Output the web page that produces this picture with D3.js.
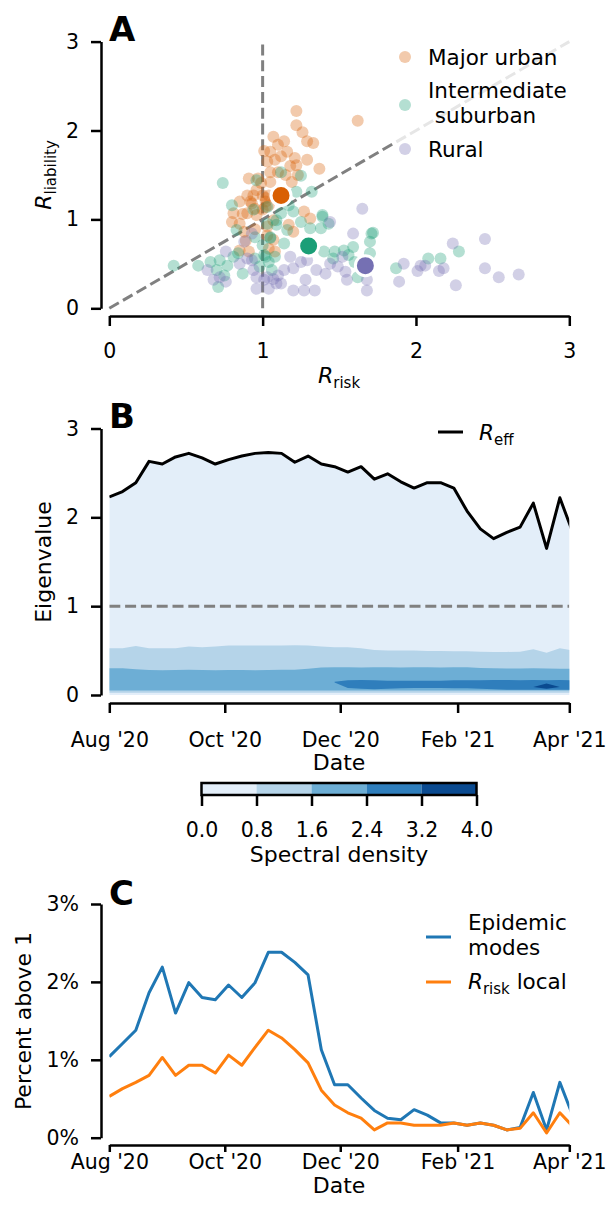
<!DOCTYPE html>
<html>
<head>
<meta charset="utf-8">
<script src="https://cdn.jsdelivr.net/npm/d3@7"></script>
<style>
body { margin: 0; background: #fff; }
text { font-family: "DejaVu Sans", sans-serif; fill: #000; }
</style>
</head>
<body>
<div id="chart"></div>
<script>
// ---------- data ----------
// panel A: [R_risk, R_liability] per county, grouped
var urbanPts = [[1.22,2.22],[1.22,2.06],[1.26,1.98],[1.29,1.88],[1.33,1.86],[1.07,1.93],[1.14,1.88],[1.10,1.84],
  [1.01,1.77],[1.05,1.76],[1.16,1.76],[1.12,1.71],[1.21,1.69],[1.29,1.67],[1.37,1.57],[1.03,1.65],[1.08,1.67],
  [1.18,1.60],[1.22,1.61],[1.05,1.53],[1.10,1.53],[1.15,1.50],[1.23,1.50],[1.19,1.42],[0.91,1.46],[0.97,1.46],
  [1.05,1.42],[0.96,1.33],[0.94,1.27],[1.00,1.27],[0.85,1.20],[0.92,1.20],[1.02,1.20],[0.95,1.12],[0.87,1.06],
  [1.00,1.11],[1.04,1.27],[1.62,2.11],[0.99,1.41],[0.90,1.27],[1.02,1.24],[0.93,1.18],[1.02,1.14],[0.81,1.07],
  [0.90,1.07],[0.96,1.05],[0.80,0.97],[0.85,0.95],[0.88,0.86],[0.95,0.89],[0.89,0.76],[1.03,0.82],[1.07,0.77],
  [0.85,0.65],[0.91,0.64],[1.04,0.67],[1.08,0.64],[1.27,1.09],[1.31,1.01],[1.20,0.86],[1.04,1.16],[1.07,0.99],
  [1.03,0.92],[1.17,0.94]];
var suburbanPts = [[0.74,1.41],[0.80,1.16],[0.94,1.11],[0.83,0.88],[0.95,0.80],[1.05,0.80],[1.00,0.71],[0.42,0.48],
  [0.58,0.48],[0.66,0.52],[0.72,0.54],[0.77,0.48],[0.81,0.58],[0.84,0.62],[0.70,0.43],[0.75,0.37],[0.71,0.24],
  [0.87,0.39],[0.95,0.56],[1.01,0.60],[1.04,0.52],[1.06,0.43],[0.98,0.47],[1.08,0.58],[1.09,0.99],[1.03,0.95],
  [1.39,1.03],[1.43,0.95],[1.38,0.90],[1.31,0.90],[1.25,0.97],[1.20,1.09],[1.12,1.07],[1.09,0.94],[1.16,0.88],
  [1.14,0.73],[1.05,0.79],[1.71,0.84],[1.70,0.75],[1.59,0.69],[1.53,0.65],[1.56,0.60],[1.60,0.52],[1.70,0.62],
  [1.62,0.35],[1.40,0.64],[1.47,0.64],[1.46,0.56],[1.02,0.58],[1.72,0.85],[1.87,0.45],[2.08,0.56],[2.16,0.56],
  [2.28,0.64],[1.32,1.31],[1.22,1.31],[1.39,1.05],[1.25,1.49],[1.12,1.53],[0.96,1.44],[1.17,1.16],[1.03,1.14]];
var ruralPts = [[0.76,0.64],[0.64,0.43],[0.68,0.32],[0.72,0.35],[0.76,0.30],[0.85,0.50],[0.90,0.56],[0.93,0.54],
  [0.94,0.43],[0.96,0.35],[1.01,0.32],[0.96,0.22],[1.04,0.22],[1.09,0.28],[0.93,0.84],[0.88,0.75],[1.07,0.33],
  [1.65,1.12],[1.59,0.84],[1.44,0.97],[1.52,0.58],[1.44,0.50],[1.49,0.47],[1.54,0.41],[1.41,0.39],[1.35,0.43],
  [1.55,0.32],[1.68,0.32],[1.68,0.20],[1.28,0.32],[1.34,0.20],[1.27,0.20],[1.20,0.20],[1.12,0.28],[1.10,0.37],
  [1.20,0.45],[1.25,0.52],[1.18,0.58],[1.29,0.54],[1.14,0.43],[1.03,0.35],[2.24,0.73],[2.45,0.78],[1.92,0.50],
  [2.03,0.48],[2.06,0.48],[2.01,0.42],[2.15,0.42],[2.18,0.45],[1.89,0.30],[2.26,0.26],[2.45,0.45],[2.54,0.35],
  [2.67,0.38]];
var groupNames = ['Major urban', 'Intermediate\n suburban', 'Rural'];
var groupColors = ['#d95f02', '#1b9e77', '#7570b3'];
var groupMeans = [[1.12,1.27],[1.30,0.70],[1.67,0.48]];
var axisTicksA = [0, 1, 2, 3];

// panels B and C: weekly values from 1 Aug 2020
var weekCount = 36;
var rEff = [2.23,2.29,2.39,2.63,2.60,2.68,2.72,2.67,2.60,2.65,2.69,2.72,2.73,2.72,2.62,2.69,2.60,2.57,
  2.51,2.57,2.43,2.49,2.40,2.33,2.39,2.39,2.33,2.07,1.87,1.76,1.83,1.89,2.16,1.65,2.22,1.82];
// spectral density bands (eigenvalue limits of each filled contour level)
var band1Top = [0.526,0.526,0.552,0.526,0.526,0.526,0.545,0.537,0.545,0.556,0.556,0.556,0.556,0.556,0.560,0.556,0.545,0.537,
  0.537,0.526,0.507,0.500,0.500,0.500,0.496,0.496,0.492,0.492,0.488,0.485,0.485,0.488,0.515,0.477,0.526,0.500];
var band1Bot = [0.025,0.025,0.025,0.025,0.025,0.025,0.025,0.025,0.025,0.025,0.025,0.025,0.025,0.025,0.025,0.025,0.025,0.025,
  0.025,0.025,0.025,0.025,0.025,0.025,0.025,0.025,0.025,0.025,0.025,0.025,0.025,0.025,0.025,0.025,0.025,0.025];
var band2Top = [0.300,0.300,0.290,0.282,0.280,0.282,0.283,0.282,0.280,0.282,0.282,0.280,0.282,0.283,0.285,0.295,0.310,0.312,
  0.312,0.310,0.312,0.312,0.310,0.312,0.312,0.310,0.312,0.312,0.305,0.300,0.297,0.297,0.300,0.297,0.295,0.297];
var band2Bot = [0.050,0.050,0.050,0.050,0.050,0.050,0.050,0.050,0.050,0.050,0.050,0.050,0.050,0.050,0.050,0.050,0.050,0.050,
  0.050,0.050,0.050,0.050,0.050,0.050,0.050,0.050,0.050,0.050,0.050,0.050,0.050,0.050,0.050,0.050,0.050,0.050];
var band3Top = [null,null,null,null,null,null,null,null,null,null,null,null,null,null,null,null,null,0.150,
  0.165,0.170,0.165,0.160,0.160,0.160,0.160,0.160,0.165,0.165,0.165,0.170,0.170,0.165,0.170,0.165,0.170,0.165];
var band3Bot = [null,null,null,null,null,null,null,null,null,null,null,null,null,null,null,null,null,0.140,
  0.080,0.070,0.065,0.070,0.075,0.080,0.080,0.080,0.075,0.075,0.070,0.065,0.060,0.060,0.060,0.060,0.060,0.060];
var band4Top = [null,null,null,null,null,null,null,null,null,null,null,null,null,null,null,null,null,null,
  null,null,null,null,null,null,null,null,null,null,null,null,null,null,0.090,0.130,0.090,null];
var band4Bot = [null,null,null,null,null,null,null,null,null,null,null,null,null,null,null,null,null,null,
  null,null,null,null,null,null,null,null,null,null,null,null,null,null,0.090,0.070,0.090,null];
var densityLevels = [0.0, 0.8, 1.6, 2.4, 3.2, 4.0];

var epidemicModes = [1.04,1.21,1.38,1.86,2.19,1.60,1.99,1.80,1.77,1.96,1.80,1.99,2.38,2.38,2.25,2.09,1.13,0.68,
  0.68,0.51,0.35,0.25,0.23,0.36,0.29,0.19,0.19,0.16,0.19,0.16,0.10,0.13,0.58,0.10,0.71,0.27];
var rRiskLocal = [0.53,0.63,0.71,0.80,1.03,0.80,0.93,0.93,0.83,1.06,0.93,1.16,1.38,1.28,1.13,0.96,0.61,0.42,
  0.32,0.25,0.10,0.19,0.19,0.16,0.16,0.16,0.19,0.16,0.19,0.16,0.10,0.12,0.32,0.06,0.32,0.14];
var dateTicks = ['2020-08-01','2020-10-01','2020-12-01','2021-02-01','2021-04-01'];
var eigTicks = [0, 1, 2, 3];
var pctTicks = [0, 1, 2, 3];

// ---------- setup ----------
var W = 608, H = 1214;
var tickFont = '20.5px', labelFont = '22px', legendFont = '21.5px';
var dash = '11,4.8';

var svg = d3.select('#chart').append('svg')
  .attr('width', W).attr('height', H)

var parse = d3.timeParse('%Y-%m-%d');
var weekStart = parse('2020-08-01');
var weeks = d3.range(weekCount).map(i => d3.timeDay.offset(weekStart, 7 * i));
var tickDates = dateTicks.map(parse);

function styleAxis(g){
  g.select('.domain').attr('stroke', '#000').attr('stroke-width', 2.5);
  g.selectAll('.tick line').attr('stroke', '#000').attr('stroke-width', 2.5);
  g.selectAll('.tick text').style('font-size', tickFont).attr('fill', '#000')
    .style('font-family', '"DejaVu Sans", sans-serif');
}

function panelLetter(txt, x, y){
  svg.append('text').attr('x', x).attr('y', y).text(txt)
    .style('font-size', '34px').style('font-weight', 'bold')
}

function subLabel(g, main, sub, extra){
  var t = g.append('text').style('font-size', labelFont)
  t.append('tspan').text(main).style('font-style', 'italic')
  t.append('tspan').text(sub).style('font-size', '15px').attr('dy', 5)
  if (extra) t.append('tspan').text(extra).attr('dy', -5)
  return t
}

// ---------- panel A ----------
var xA = d3.scaleLinear().domain([0, 3]).range([109.3, 569.3]);
var yA = d3.scaleLinear().domain([0, 3]).range([308.3, 41.6]);

svg.append('g').attr('transform', 'translate(101,0)')
  .call(d3.axisLeft(yA).tickValues(axisTicksA).tickFormat(d3.format('d')).tickSize(10).tickPadding(12).tickSizeOuter(0))
  .call(styleAxis);
svg.append('g').attr('transform', 'translate(0,316)')
  .call(d3.axisBottom(xA).tickValues(axisTicksA).tickFormat(d3.format('d')).tickSize(10).tickPadding(17).tickSizeOuter(0))
  .call(styleAxis);

var refLine = d3.line().x(d => xA(d[0])).y(d => yA(d[1]));
svg.append('path').attr('d', refLine([[0,0],[3,3]]))
  .attr('stroke', '#808080').attr('stroke-width', 3).attr('stroke-dasharray', dash).attr('fill', 'none');
svg.append('path').attr('d', refLine([[1,0],[1,3]]))
  .attr('stroke', '#808080').attr('stroke-width', 3).attr('stroke-dasharray', dash).attr('fill', 'none');

[urbanPts, suburbanPts, ruralPts].forEach(function(pts, gi){
  svg.append('g').selectAll('circle').data(pts).enter().append('circle')
    .attr('cx', d => xA(d[0])).attr('cy', d => yA(d[1])).attr('r', 6)
    .attr('fill', groupColors[gi]).attr('fill-opacity', 0.33)
});
svg.append('g').selectAll('circle').data(groupMeans).enter().append('circle')
  .attr('cx', d => xA(d[0])).attr('cy', d => yA(d[1])).attr('r', 10)
  .attr('fill', (d, i) => groupColors[i]).attr('stroke', '#fff').attr('stroke-width', 3);

// legend A (semi transparent frame hides the diagonal)
svg.append('rect').attr('x', 393).attr('y', 38).attr('width', 186).attr('height', 127)
  .attr('fill', '#fff').attr('fill-opacity', 0.8);
var legA = [[57, [57]], [105, [90, 115]], [149, [149]]];
legA.forEach(function(row, i){
  svg.append('circle').attr('cx', 405).attr('cy', row[0]).attr('r', 6)
    .attr('fill', groupColors[i]).attr('fill-opacity', 0.33);
  groupNames[i].split('\n').forEach(function(line, j){
    svg.append('text').attr('x', 428).attr('y', row[1][j]).attr('dy', '0.36em')
      .style('font-size', legendFont).style('white-space', 'pre').attr('xml:space', 'preserve').text(line)
  })
});

var yLabA = svg.append('g').attr('transform', 'translate(51,175) rotate(-90)')
subLabel(yLabA, 'R', 'liability').attr('text-anchor', 'middle')
var xLabA = svg.append('g').attr('transform', 'translate(339,383)')
subLabel(xLabA, 'R', 'risk').attr('text-anchor', 'middle')
panelLetter('A', 109, 41);

// ---------- panel B ----------
var xT = d3.scaleTime().domain([tickDates[0], tickDates[4]]).range([109.3, 569.3]);
var yB = d3.scaleLinear().domain([0, 3]).range([695, 428.5]);
var blues = d3.scaleSequential(d3.interpolateBlues).domain([0, 4]);
var bandColors = d3.range(5).map(i => blues((densityLevels[i] + densityLevels[i + 1]) / 2));

svg.append('defs').append('clipPath').attr('id', 'plotClip')
  .append('rect').attr('x', 109.3).attr('y', 0).attr('width', 460).attr('height', H);

var plotB = svg.append('g').attr('clip-path', 'url(#plotClip)');
plotB.append('path').datum(rEff)
  .attr('d', d3.area().x((d, i) => xT(weeks[i])).y0(yB(0)).y1(d => yB(d)))
  .attr('fill', bandColors[0]);

var bands = [[band1Bot, band1Top], [band2Bot, band2Top], [band3Bot, band3Top], [band4Bot, band4Top]];
bands.forEach(function(b, k){
  plotB.append('path').datum(weeks)
    .attr('d', d3.area().defined((d, i) => b[1][i] != null)
      .x(d => xT(d)).y0((d, i) => yB(b[0][i])).y1((d, i) => yB(b[1][i])))
    .attr('fill', bandColors[k + 1]);
});

plotB.append('path').datum([1, 1])
  .attr('d', d3.line().x((d, i) => xT(tickDates[i * 4])).y(d => yB(d)))
  .attr('stroke', '#808080').attr('stroke-width', 3).attr('stroke-dasharray', dash).attr('fill', 'none');

plotB.append('path').datum(rEff)
  .attr('d', d3.line().x((d, i) => xT(weeks[i])).y(d => yB(d)))
  .attr('stroke', '#000').attr('stroke-width', 3).attr('fill', 'none').attr('stroke-linejoin', 'round');

svg.append('g').attr('transform', 'translate(101,0)')
  .call(d3.axisLeft(yB).tickValues(eigTicks).tickFormat(d3.format('d')).tickSize(10).tickPadding(12).tickSizeOuter(0))
  .call(styleAxis);
svg.append('g').attr('transform', 'translate(0,703)')
  .call(d3.axisBottom(xT).tickValues(tickDates).tickFormat(d3.timeFormat("%b '%y")).tickSize(10).tickPadding(19).tickSizeOuter(0))
  .call(styleAxis);

svg.append('text').attr('transform', 'translate(51,562) rotate(-90)').attr('text-anchor', 'middle')
  .style('font-size', labelFont).text('Eigenvalue');
svg.append('text').attr('x', 339).attr('y', 770).attr('text-anchor', 'middle')
  .style('font-size', labelFont).text('Date');

svg.append('line').attr('x1', 438).attr('x2', 463).attr('y1', 432).attr('y2', 432)
  .attr('stroke', '#000').attr('stroke-width', 3);
var legB = svg.append('g').attr('transform', 'translate(479,440)')
subLabel(legB, 'R', 'eff').style('font-size', legendFont)
panelLetter('B', 109, 428);

// colorbar
var cbX = d3.scaleLinear().domain([0, 4]).range([201.5, 476.5]);
svg.append('g').selectAll('rect').data(bandColors).enter().append('rect')
  .attr('x', (d, i) => cbX(densityLevels[i])).attr('y', 783)
  .attr('width', (d, i) => cbX(densityLevels[i + 1]) - cbX(densityLevels[i])).attr('height', 12)
  .attr('fill', d => d);
svg.append('rect').attr('x', cbX(0)).attr('y', 783).attr('width', cbX(4) - cbX(0)).attr('height', 12)
  .attr('fill', 'none').attr('stroke', '#000').attr('stroke-width', 2.5);
svg.append('g').attr('transform', 'translate(0,795)')
  .call(d3.axisBottom(cbX).tickValues(densityLevels).tickFormat(d3.format('.1f')).tickSize(11).tickPadding(16).tickSizeOuter(0))
  .call(styleAxis)
  .call(g => g.select('.domain').remove());
svg.append('text').attr('x', 339).attr('y', 862).attr('text-anchor', 'middle')
  .style('font-size', labelFont).text('Spectral density');

// ---------- panel C ----------
var yC = d3.scaleLinear().domain([0, 3]).range([1137.7, 904]);
var plotC = svg.append('g').attr('clip-path', 'url(#plotClip)');
var seriesC = [[epidemicModes, '#1f77b4'], [rRiskLocal, '#ff7f0e']];
seriesC.forEach(function(s){
  plotC.append('path').datum(s[0])
    .attr('d', d3.line().x((d, i) => xT(weeks[i])).y(d => yC(d)))
    .attr('stroke', s[1]).attr('stroke-width', 3).attr('fill', 'none').attr('stroke-linejoin', 'round');
});

svg.append('g').attr('transform', 'translate(101,0)')
  .call(d3.axisLeft(yC).tickValues(pctTicks).tickFormat(d => d + '%').tickSize(10).tickPadding(12).tickSizeOuter(0))
  .call(styleAxis);
svg.append('g').attr('transform', 'translate(0,1145)')
  .call(d3.axisBottom(xT).tickValues(tickDates).tickFormat(d3.timeFormat("%b '%y")).tickSize(7).tickPadding(2).tickSizeOuter(0))
  .call(styleAxis);

svg.append('text').attr('transform', 'translate(31,1021) rotate(-90)').attr('text-anchor', 'middle')
  .style('font-size', labelFont).text('Percent above 1');
svg.append('text').attr('x', 339).attr('y', 1193).attr('text-anchor', 'middle')
  .style('font-size', labelFont).text('Date');

svg.append('line').attr('x1', 426).attr('x2', 451).attr('y1', 937).attr('y2', 937)
  .attr('stroke', seriesC[0][1]).attr('stroke-width', 3);
svg.append('text').attr('x', 468).attr('y', 930).style('font-size', legendFont).text('Epidemic');
svg.append('text').attr('x', 468).attr('y', 955).style('font-size', legendFont).text('modes');
svg.append('line').attr('x1', 426).attr('x2', 451).attr('y1', 982).attr('y2', 982)
  .attr('stroke', seriesC[1][1]).attr('stroke-width', 3);
var legC = svg.append('g').attr('transform', 'translate(468,989)')
subLabel(legC, 'R', 'risk', ' local').style('font-size', legendFont)
panelLetter('C', 109, 905);
</script>
</body>
</html>
